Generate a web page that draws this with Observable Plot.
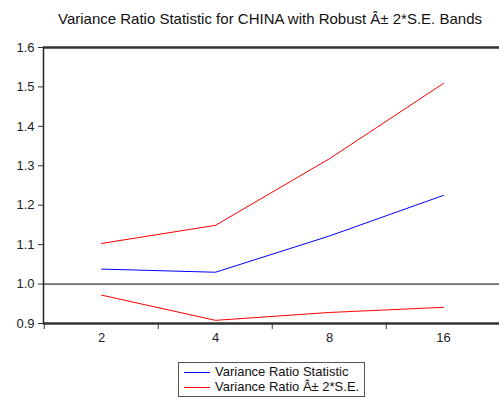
<!DOCTYPE html>
<html>
<head>
<meta charset="utf-8">
<script src="https://cdn.jsdelivr.net/npm/d3@7"></script>
<script src="https://cdn.jsdelivr.net/npm/@observablehq/plot@0.6"></script>
<style>
  html, body { margin: 0; padding: 0; background: #fff; }
  body { width: 499px; height: 399px; position: relative; overflow: hidden; font-family: "Liberation Sans", Arial, sans-serif; }
  #title { position: absolute; left: 0; width: 540px; top: 10px; text-align: center; font-size: 15px; color: #111; }
  #chart { position: absolute; left: 0; top: 0; }
  #legend { position: absolute; left: 178px; top: 362px; width: 185px; height: 33px; border: 1px solid #555; font-size: 13px; color: #111; }
  .row { position: absolute; left: 5px; height: 14px; line-height: 14px; }
  .sw { position: absolute; left: 0; top: 7px; width: 26px; height: 1px; }
  .row span { position: absolute; left: 31px; top: 0; white-space: nowrap; }
</style>
</head>
<body>
<div id="title">Variance Ratio Statistic for CHINA with Robust Â± 2*S.E. Bands</div>
<div id="chart"></div>
<div id="legend">
  <div class="row" style="top:2px"><div class="sw" style="background:#0000ff"></div><span>Variance Ratio Statistic</span></div>
  <div class="row" style="top:17px"><div class="sw" style="background:#ff0000"></div><span>Variance Ratio Â± 2*S.E.</span></div>
</div>
<script>
const periods = ["2", "4", "8", "16"];
const vrStat  = [1.038, 1.030, 1.122, 1.225];
const upper   = [1.103, 1.149, 1.318, 1.509];
const lower   = [0.972, 0.908, 0.928, 0.941];
const yTicks  = [0.9, 1.0, 1.1, 1.2, 1.3, 1.4, 1.5, 1.6];
const yDomain = [0.9, 1.6];
const refLine = [1.0];

const statData  = periods.map((p, i) => ({p, v: vrStat[i]}));
const upperData = periods.map((p, i) => ({p, v: upper[i]}));
const lowerData = periods.map((p, i) => ({p, v: lower[i]}));

const W = 499, H = 399;
const plot = Plot.plot({
  width: W,
  height: H,
  marginLeft: 43,
  marginRight: 0,
  marginTop: 47,
  marginBottom: 76,
  style: { fontFamily: "Liberation Sans, Arial, sans-serif", fontSize: "13px", color: "#222", background: "transparent", overflow: "visible" },
  x: { type: "point", domain: periods, range: [43, 501], padding: 0.5 },
  y: { domain: yDomain },
  marks: [
    Plot.axisY({ ticks: yTicks, tickFormat: d => d.toFixed(1), tickSize: 5, tickPadding: 4, label: null, stroke: "#333" }),
    Plot.axisX({ tickSize: 0, tickPadding: 9, label: null, fontSize: 13 }),
    Plot.axisX({ tickSize: 6, text: null, dx: -57.25, stroke: "#333", label: null }),
    Plot.frame({ anchor: "left", stroke: "#222", strokeWidth: 1.5 }),
    Plot.ruleY(refLine, { stroke: "#000", strokeWidth: 1 }),
    Plot.line(upperData, { x: "p", y: "v", stroke: "#ff0000", strokeWidth: 1 }),
    Plot.line(lowerData, { x: "p", y: "v", stroke: "#ff0000", strokeWidth: 1 }),
    Plot.line(statData,  { x: "p", y: "v", stroke: "#0000ff", strokeWidth: 1 }),
    Plot.ruleY(yDomain, { stroke: "#333", strokeWidth: 2.5 })
  ]
});
document.getElementById("chart").appendChild(plot);
</script>
</body>
</html>
